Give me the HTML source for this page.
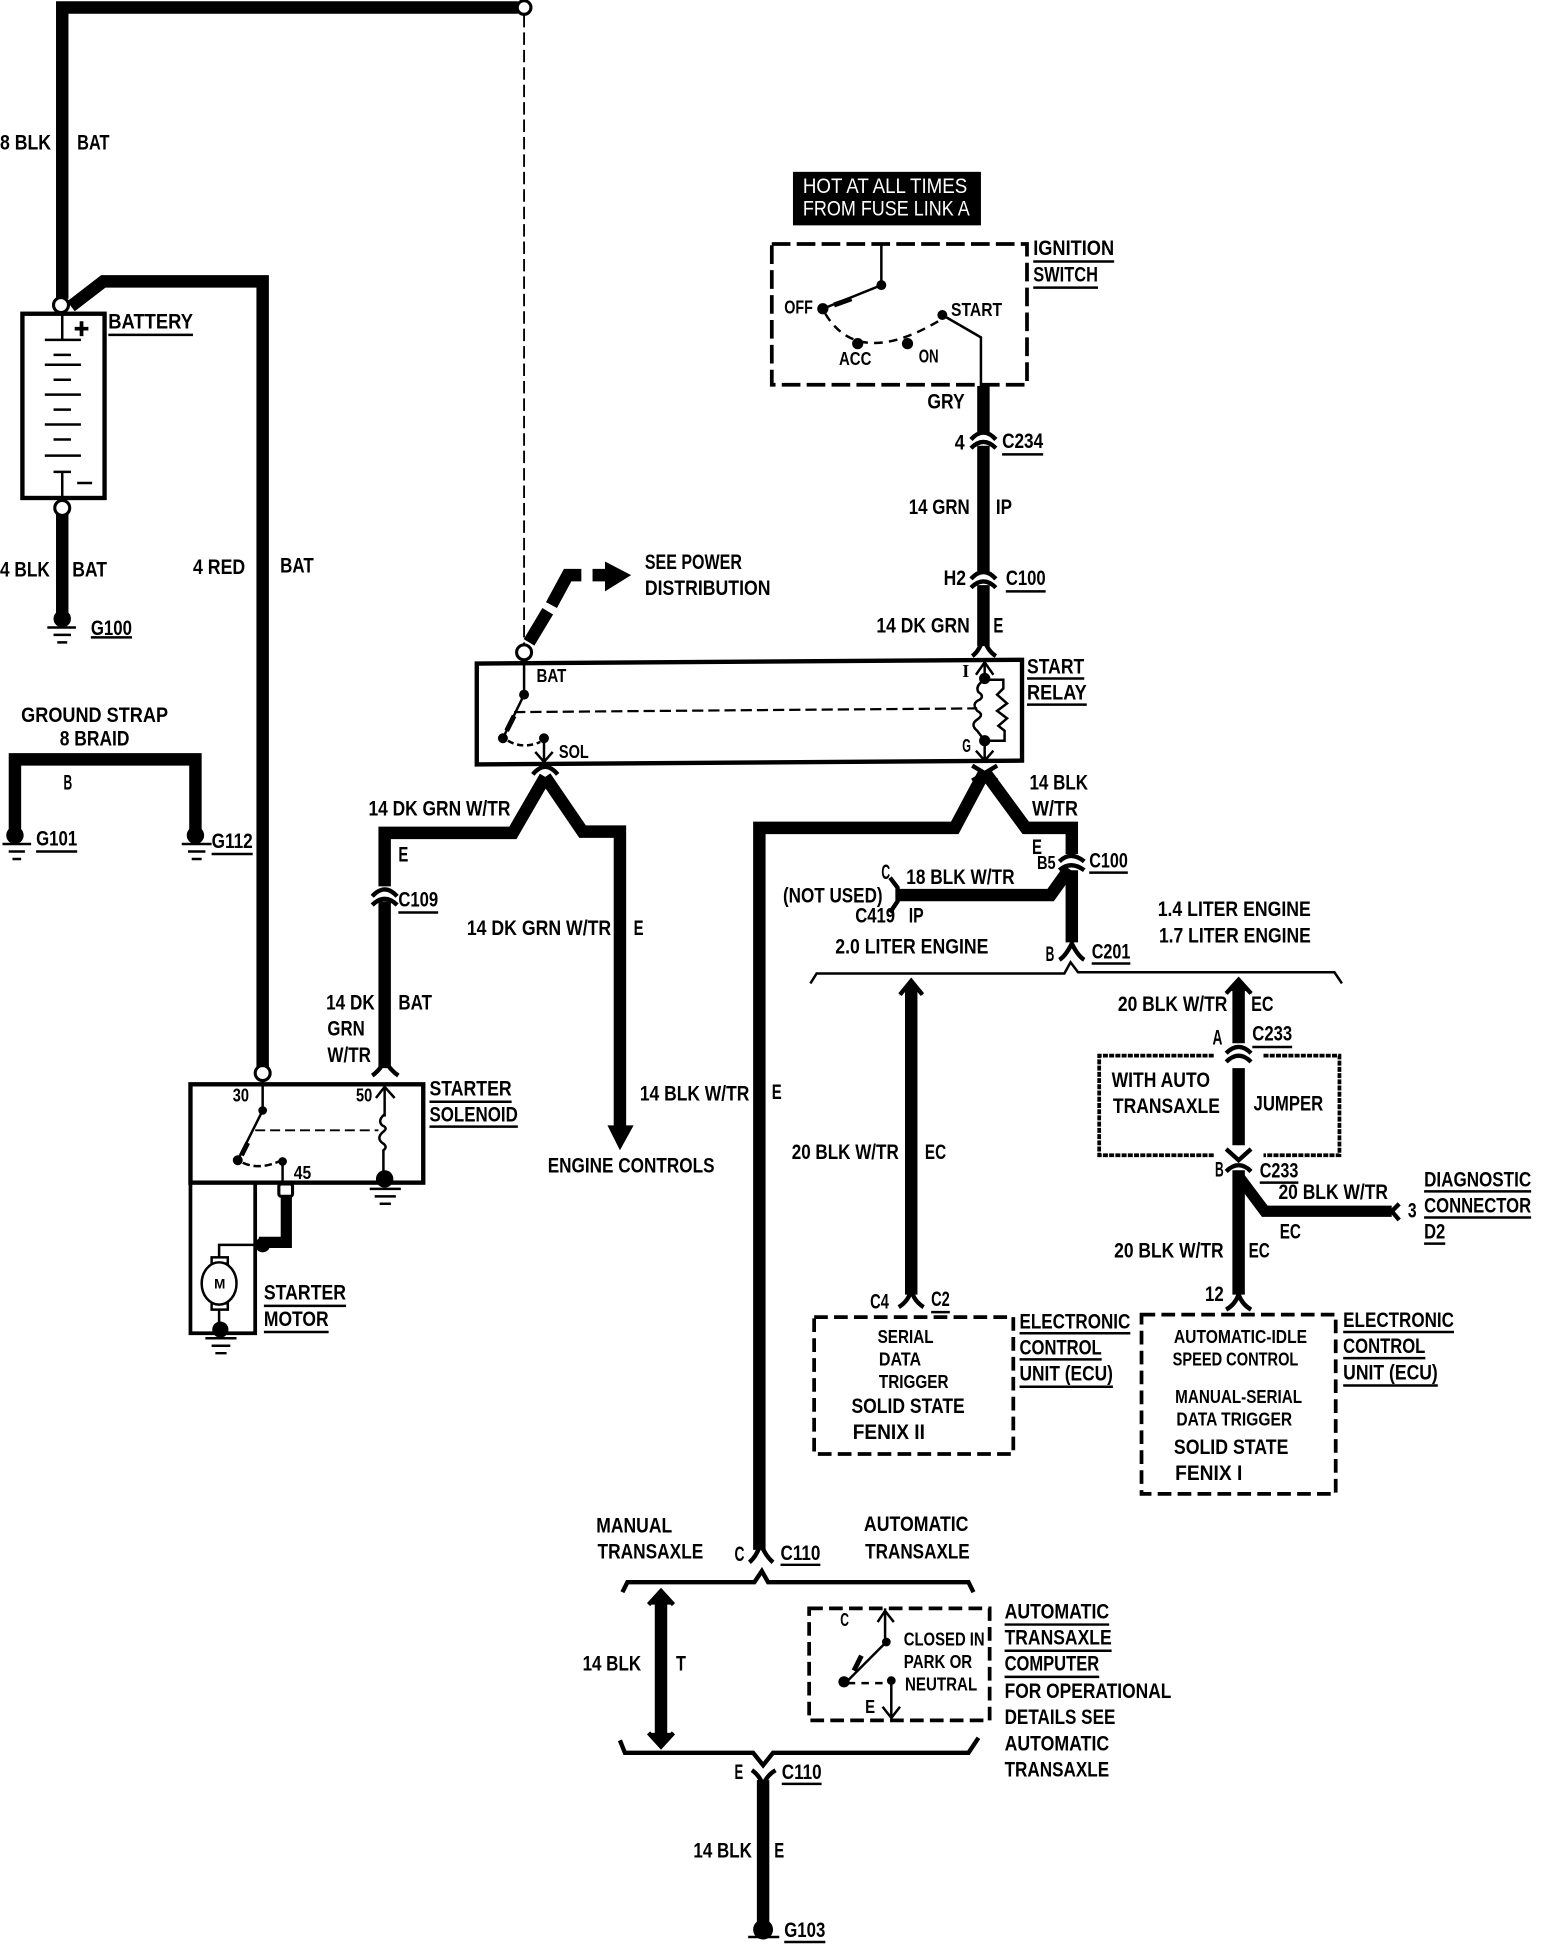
<!DOCTYPE html>
<html><head><meta charset="utf-8"><style>
html,body{margin:0;padding:0;background:#fff}
svg{display:block}
text{font-family:"Liberation Sans",sans-serif;font-weight:bold;font-size:17px;fill:#000}
.s{font-size:14.500px}
.w{fill:none;stroke:#000;stroke-linejoin:miter}
.t{fill:none;stroke:#000;stroke-width:2}
.d{fill:none;stroke:#000;stroke-width:3}
</style></head><body>
<svg xmlns="http://www.w3.org/2000/svg" width="1568" height="1952" viewBox="0 0 1259.6 1568">
<rect width="1260" height="1568" fill="#fff"/>
<!-- heavy wires -->
<g class="w" stroke-width="10">
<path d="M50 240V6H416"/>
<path d="M57 246L83 226H211V857"/>
<path d="M50 405V497"/>
<path d="M12 668V610H157V668"/>
<path d="M425 516L440 491M443 486L456 462H467M476 462H488"/>
<path d="M790 310V347M790 358V459M790 470V519"/>
<path d="M791 620L767 665H610V1245"/>
<path d="M791 620L824 665H861V686"/>
<path d="M861 699V757M859 698L844 719H720" stroke-width="10"/>
<path d="M438 624L412 669H309V712M309 724V858"/>
<path d="M438 624L468 668H498V906"/>
<path d="M732 796V1040M995 795V838M995 858V920M995 940V1040"/>
<path d="M995 945L1016 973H1118" stroke-width="9"/>
<path d="M531 1285V1396"/>
<path d="M613 1430V1546"/>
<path d="M230 960V998H208" stroke-width="9"/>
</g>
<!-- terminals -->
<g fill="#fff" stroke="#000" stroke-width="2.5">
<circle cx="421" cy="6" r="5.5"/><circle cx="49" cy="245" r="6"/><circle cx="50" cy="408" r="6"/>
<circle cx="421" cy="524" r="6"/><circle cx="211" cy="862" r="6"/><rect x="224" y="951" width="11" height="10" rx="2"/>
</g>
<!-- dashed -->
<path d="M421 12V518" fill="none" stroke="#000" stroke-width="1.5" stroke-dasharray="10 4"/>
<!-- battery -->
<rect x="18" y="252" width="66" height="148" fill="none" stroke="#000" stroke-width="3.5"/>
<path d="M50 253V272M36 273H65M43 285H57M36 293H65M43 305H57M36 317H65M43 329H57M36 341H65M43 353H57M36 366H65M43 379H57M50 380V399M62 388H74" class="w" stroke-width="2"/>
<path d="M60 264H71M65.500 258V270" class="w" stroke-width="3"/>
<!-- grounds -->
<circle cx="50" cy="497" r="7"/><path d="M38 504H61M43 510H57M46 516H54" class="t"/>
<circle cx="12" cy="671" r="7"/><path d="M2 678H25M7 684H20M10 690H17" class="t"/>
<circle cx="157" cy="671" r="7"/><path d="M146 678H170M151 684H165M154 690H162" class="t"/>
<circle cx="613" cy="1550" r="8"/><path d="M601 1556H626" class="t"/>
<!-- power arrow -->
<polygon points="486,451 507,462 486,475"/>
<!-- start relay -->
<path d="M383 533L821 530V611L383 614Z" fill="none" stroke="#000" stroke-width="3.500"/>
<path d="M421 530V558L404 593" class="t"/><path d="M413 575L407 587" class="w" stroke-width="4"/>
<circle cx="421" cy="558" r="4"/><circle cx="404" cy="593" r="4"/><circle cx="437" cy="593" r="4"/>
<path d="M408 595Q420 602 434 596" class="t" stroke-dasharray="5 3"/>
<path d="M437 593V612M430 604L437 612L444 604" class="t"/>
<path d="M413 572L785 569" fill="none" stroke="#000" stroke-width="1.800" stroke-dasharray="9 4"/>
<path d="M791 532V546M784 542L791 532L798 542M791 594V611M784 603L791 611L798 603" class="t"/>
<circle cx="791" cy="545" r="4.500"/><circle cx="791" cy="595" r="4.500"/>
<path d="M791 546q-8 5 -5 10q5 3 1 6q-7 3 -2 9q6 3 0 7q-6 4 0 9l6 8" class="t"/>
<path d="M791 546H806V553L801 558L809 565L801 571L809 577L802 583L807 587V595H791" class="t"/>
<!-- connectors, arches -->
<g class="w" stroke-width="3.500">
<path d="M780 353Q790 342 800 353M780 360Q790 350 800 360"/>
<path d="M780 465Q790 454 800 465M780 472Q790 462 800 472"/>
<path d="M781 527Q788 522 790 510Q792 522 800 527"/>
<path d="M428 622Q438 610 448 622"/>
<path d="M781 615L801 627M801 615L781 627"/>
<path d="M299 720Q309 709 319 720M299 727Q309 717 319 727"/>
<path d="M299 864Q305 860 309 852Q314 860 320 864"/>
<path d="M851 692Q860 683 871 692M851 699Q860 691 871 699"/>
<path d="M851 771Q856 768 861 758Q866 768 871 771"/>
<path d="M715 705L721 713V724L715 733"/>
<path d="M723 799L732 788L741 799M985 798L995 787L1005 798"/>
<path d="M722 1050Q730 1045 732 1036Q734 1045 742 1050"/>
<path d="M985 846Q995 836 1005 846M985 853Q995 843 1005 853"/>
<path d="M985 923L995 932L1005 923M985 941Q995 931 1005 941"/>
<path d="M985 1052Q992 1048 995 1040Q998 1048 1005 1052"/>
<path d="M1124 967L1118 973L1124 980"/>
<path d="M602 1255Q608 1250 611 1240Q615 1250 621 1255"/>
<path d="M521 1289L531 1278L541 1289M521 1392L531 1403L541 1392"/>
<path d="M604 1422Q610 1426 613 1434Q616 1426 623 1422"/>
</g>
<polygon points="727,796 737,796 742,800 732,787 722,800" />
<polygon points="989,796 1001,796 1006,799 995,786 984,799"/>
<polygon points="525,1289 537,1289 541,1289 531,1277 521,1289"/>
<polygon points="525,1392 537,1392 541,1392 531,1404 521,1392"/>
<!-- brackets -->
<path d="M651 790L656 782H855L860 773L866 781H1072L1078 790" class="t"/>
<path d="M500 1279L504 1271H606L612 1262L617 1271H778L782 1279" class="w" stroke-width="3.500"/>
<path d="M498 1398L502 1408H605L613 1418L621 1408H778L786 1396" class="w" stroke-width="3.500"/>
<!-- engine controls arrow -->
<polygon points="488,904 509,904 498,924"/>
<!-- solenoid -->
<rect x="153" y="871" width="187" height="79" fill="none" stroke="#000" stroke-width="3.500"/>
<path d="M211 868V892L191 932" class="t"/>
<path d="M153 950V1071H205V950" class="w" stroke-width="3"/>
<path d="M199 918L194 928" class="w" stroke-width="4"/>
<circle cx="211" cy="892" r="3.500"/><circle cx="191" cy="932" r="4"/><circle cx="227" cy="933" r="3.500"/>
<path d="M195 934Q208 940 224 933" class="t" stroke-dasharray="6 3"/>
<path d="M227 935V950M302 882L309 873L317 882M309 873V897" class="t"/>
<path d="M205 908H304" fill="none" stroke="#000" stroke-width="1.500" stroke-dasharray="8 4"/>
<path d="M309 895q-6 5 -2 9q5 2 1 5q-6 5 -1 9q5 3 1 6V945" class="t"/>
<circle cx="309" cy="947" r="7"/><path d="M297 955H322M301 961H318M305 967H314" class="t"/>
<circle cx="211" cy="1000" r="6"/>
<path d="M205 1000H176V1010M176 1046V1066" class="t"/>
<rect x="170" y="1010" width="13" height="5" fill="#fff" stroke="#000" stroke-width="2"/>
<rect x="170" y="1047" width="13" height="5" fill="#fff" stroke="#000" stroke-width="2"/>
<ellipse cx="176" cy="1031" rx="14" ry="17" fill="#fff" stroke="#000" stroke-width="2"/>
<circle cx="177" cy="1068" r="6.500"/><path d="M165 1075H190M170 1081H185M173 1087H182" class="t"/>
<!-- ignition switch -->
<rect x="637" y="138" width="151" height="43"/>
<rect x="620" y="196" width="205" height="113" fill="none" stroke="#000" stroke-width="3" stroke-dasharray="15 5"/>
<path d="M708 196V229L661 248M757 253L788 271V310" class="t"/>
<path d="M670 245L684 240" class="w" stroke-width="4"/>
<circle cx="708" cy="229" r="4"/><circle cx="661" cy="248" r="4.500"/><circle cx="757" cy="253" r="4"/><circle cx="689" cy="276" r="4.500"/><circle cx="729" cy="276" r="4.500"/>
<path d="M663 252Q690 297 757 256" class="t" stroke-dasharray="7 5"/>
<!-- jumper -->
<path d="M975 848H883V928H975M1015 848H1076V928H1015" fill="none" stroke="#000" stroke-width="3" stroke-dasharray="4 1"/>
<!-- ECU boxes -->
<rect x="654" y="1058" width="160" height="110" fill="none" stroke="#000" stroke-width="3" stroke-dasharray="11 5"/>
<rect x="917" y="1056" width="156" height="144" fill="none" stroke="#000" stroke-width="3" stroke-dasharray="11 5"/>
<!-- transaxle computer box -->
<rect x="650" y="1292" width="145" height="90" fill="none" stroke="#000" stroke-width="3" stroke-dasharray="11 5"/>
<path d="M711 1292V1320L679 1352M716 1351V1380M705 1303L711 1294L718 1303M709 1371L716 1380L723 1371" class="t"/>
<path d="M692 1330L686 1342" class="w" stroke-width="4"/>
<circle cx="712" cy="1319" r="3.500"/><circle cx="678" cy="1351" r="4.500"/><circle cx="716" cy="1350" r="3.500"/>
<path d="M681 1352H713" class="t" stroke-dasharray="6 5"/>
<!-- underlines -->
<path class="t" d="M87 269H155M73 512H106M29 684H62M170 686H203M320 733H352M345 885H411M345 905H416M212 1049H278M212 1070H264M825 545H871M825 566H873M830 210H895M830 231H882M805 365H838M808 475H840M875 701H906M877 774H908M1006 841H1038M1012 950H1043M1144 957H1230M1144 978H1230M1144 999H1161M748 1054H763M819 1071H908M819 1092H885M819 1114H894M1079 1070H1168M1079 1091H1145M1079 1113H1155M627 1257H659M807 1305H891M807 1326H893M807 1347H883M628 1433H660M630 1560H663"/>
<!-- labels -->
<text x="0" y="120" textLength="41" lengthAdjust="spacingAndGlyphs">8 BLK</text>
<text x="62" y="120" textLength="26" lengthAdjust="spacingAndGlyphs">BAT</text>
<text x="0" y="463" textLength="40" lengthAdjust="spacingAndGlyphs">4 BLK</text>
<text x="58" y="463" textLength="28" lengthAdjust="spacingAndGlyphs">BAT</text>
<text x="155" y="461" textLength="42" lengthAdjust="spacingAndGlyphs">4 RED</text>
<text x="225" y="460" textLength="27" lengthAdjust="spacingAndGlyphs">BAT</text>
<text x="87" y="264" textLength="68" lengthAdjust="spacingAndGlyphs">BATTERY</text>
<text x="73" y="510" textLength="33" lengthAdjust="spacingAndGlyphs">G100</text>
<text x="17" y="580" textLength="118" lengthAdjust="spacingAndGlyphs">GROUND  STRAP</text>
<text x="48" y="599" textLength="56" lengthAdjust="spacingAndGlyphs">8 BRAID</text>
<text x="51" y="634" textLength="7" lengthAdjust="spacingAndGlyphs">B</text>
<text x="29" y="679" textLength="33" lengthAdjust="spacingAndGlyphs">G101</text>
<text x="170" y="681" textLength="33" lengthAdjust="spacingAndGlyphs">G112</text>
<text x="296" y="655" textLength="114" lengthAdjust="spacingAndGlyphs">14 DK GRN W/TR</text>
<text x="320" y="692" textLength="8" lengthAdjust="spacingAndGlyphs">E</text>
<text x="320" y="728" textLength="32" lengthAdjust="spacingAndGlyphs">C109</text>
<text x="375" y="751" textLength="116" lengthAdjust="spacingAndGlyphs">14 DK GRN W/TR</text>
<text x="509" y="751" textLength="8" lengthAdjust="spacingAndGlyphs">E</text>
<text x="262" y="811" textLength="39" lengthAdjust="spacingAndGlyphs">14 DK</text>
<text x="320" y="811" textLength="27" lengthAdjust="spacingAndGlyphs">BAT</text>
<text x="263" y="832" textLength="30" lengthAdjust="spacingAndGlyphs">GRN</text>
<text x="263" y="853" textLength="35" lengthAdjust="spacingAndGlyphs">W/TR</text>
<text x="345" y="880" textLength="66" lengthAdjust="spacingAndGlyphs">STARTER</text>
<text x="345" y="901" textLength="71" lengthAdjust="spacingAndGlyphs">SOLENOID</text>
<text class="s" x="187" y="885" textLength="13" lengthAdjust="spacingAndGlyphs">30</text>
<text class="s" x="286" y="885" textLength="13" lengthAdjust="spacingAndGlyphs">50</text>
<text class="s" x="236" y="947" textLength="14" lengthAdjust="spacingAndGlyphs">45</text>
<text x="172" y="1035" textLength="9" lengthAdjust="spacingAndGlyphs" style="font-size:11px">M</text>
<text x="212" y="1044" textLength="66" lengthAdjust="spacingAndGlyphs">STARTER</text>
<text x="212" y="1065" textLength="52" lengthAdjust="spacingAndGlyphs">MOTOR</text>
<text x="440" y="942" textLength="134" lengthAdjust="spacingAndGlyphs">ENGINE CONTROLS</text>
<text x="514" y="884" textLength="88" lengthAdjust="spacingAndGlyphs">14 BLK W/TR</text>
<text x="620" y="883" textLength="8" lengthAdjust="spacingAndGlyphs">E</text>
<text x="518" y="457" textLength="78" lengthAdjust="spacingAndGlyphs">SEE POWER</text>
<text x="518" y="478" textLength="101" lengthAdjust="spacingAndGlyphs">DISTRIBUTION</text>
<text class="s" x="431" y="548" textLength="24" lengthAdjust="spacingAndGlyphs">BAT</text>
<text class="s" x="449" y="609" textLength="24" lengthAdjust="spacingAndGlyphs">SOL</text>
<text x="825" y="541" textLength="46" lengthAdjust="spacingAndGlyphs">START</text>
<text x="825" y="562" textLength="48" lengthAdjust="spacingAndGlyphs">RELAY</text>
<text class="s" x="773" y="544" style="font-family:'Liberation Serif',serif">I</text>
<text class="s" x="773" y="604" textLength="7" lengthAdjust="spacingAndGlyphs">G</text>
<text x="645" y="155" textLength="132" lengthAdjust="spacingAndGlyphs" style="fill:#fff;font-weight:normal">HOT AT ALL TIMES</text>
<text x="645" y="173" textLength="134" lengthAdjust="spacingAndGlyphs" style="fill:#fff;font-weight:normal">FROM FUSE LINK A</text>
<text x="830" y="205" textLength="65" lengthAdjust="spacingAndGlyphs">IGNITION</text>
<text x="830" y="226" textLength="52" lengthAdjust="spacingAndGlyphs">SWITCH</text>
<text class="s" x="630" y="252" textLength="23" lengthAdjust="spacingAndGlyphs">OFF</text>
<text class="s" x="764" y="254" textLength="41" lengthAdjust="spacingAndGlyphs">START</text>
<text class="s" x="674" y="293" textLength="26" lengthAdjust="spacingAndGlyphs">ACC</text>
<text class="s" x="738" y="291" textLength="16" lengthAdjust="spacingAndGlyphs">ON</text>
<text x="745" y="328" textLength="30" lengthAdjust="spacingAndGlyphs">GRY</text>
<text x="767" y="361" textLength="8" lengthAdjust="spacingAndGlyphs">4</text>
<text x="805" y="360" textLength="33" lengthAdjust="spacingAndGlyphs">C234</text>
<text x="730" y="413" textLength="49" lengthAdjust="spacingAndGlyphs">14 GRN</text>
<text x="800" y="413" textLength="13" lengthAdjust="spacingAndGlyphs">IP</text>
<text x="758" y="470" textLength="18" lengthAdjust="spacingAndGlyphs">H2</text>
<text x="808" y="470" textLength="32" lengthAdjust="spacingAndGlyphs">C100</text>
<text x="704" y="508" textLength="75" lengthAdjust="spacingAndGlyphs">14 DK GRN</text>
<text x="798" y="508" textLength="8" lengthAdjust="spacingAndGlyphs">E</text>
<text x="827" y="634" textLength="47" lengthAdjust="spacingAndGlyphs">14 BLK</text>
<text x="829" y="655" textLength="37" lengthAdjust="spacingAndGlyphs">W/TR</text>
<text x="829" y="686" textLength="8" lengthAdjust="spacingAndGlyphs">E</text>
<text class="s" x="833" y="698" textLength="15" lengthAdjust="spacingAndGlyphs">B5</text>
<text x="875" y="697" textLength="31" lengthAdjust="spacingAndGlyphs">C100</text>
<text x="708" y="706" textLength="7" lengthAdjust="spacingAndGlyphs">C</text>
<text x="728" y="710" textLength="87" lengthAdjust="spacingAndGlyphs">18 BLK W/TR</text>
<text x="629" y="725" textLength="80" lengthAdjust="spacingAndGlyphs">(NOT USED)</text>
<text x="687" y="741" textLength="32" lengthAdjust="spacingAndGlyphs">C419</text>
<text x="730" y="741" textLength="12" lengthAdjust="spacingAndGlyphs">IP</text>
<text x="930" y="736" textLength="123" lengthAdjust="spacingAndGlyphs">1.4 LITER ENGINE</text>
<text x="931" y="757" textLength="122" lengthAdjust="spacingAndGlyphs">1.7 LITER ENGINE</text>
<text x="671" y="766" textLength="123" lengthAdjust="spacingAndGlyphs">2.0 LITER ENGINE</text>
<text x="840" y="772" textLength="7" lengthAdjust="spacingAndGlyphs">B</text>
<text x="877" y="770" textLength="31" lengthAdjust="spacingAndGlyphs">C201</text>
<text x="898" y="812" textLength="88" lengthAdjust="spacingAndGlyphs">20 BLK W/TR</text>
<text x="1005" y="812" textLength="18" lengthAdjust="spacingAndGlyphs">EC</text>
<text x="974" y="839" textLength="8" lengthAdjust="spacingAndGlyphs">A</text>
<text x="1006" y="836" textLength="32" lengthAdjust="spacingAndGlyphs">C233</text>
<text x="893" y="873" textLength="79" lengthAdjust="spacingAndGlyphs">WITH AUTO</text>
<text x="894" y="894" textLength="86" lengthAdjust="spacingAndGlyphs">TRANSAXLE</text>
<text x="1007" y="892" textLength="56" lengthAdjust="spacingAndGlyphs">JUMPER</text>
<text x="976" y="945" textLength="7" lengthAdjust="spacingAndGlyphs">B</text>
<text x="1012" y="946" textLength="31" lengthAdjust="spacingAndGlyphs">C233</text>
<text x="1027" y="963" textLength="88" lengthAdjust="spacingAndGlyphs">20 BLK W/TR</text>
<text x="1131" y="978" textLength="7" lengthAdjust="spacingAndGlyphs">3</text>
<text x="1144" y="953" textLength="86" lengthAdjust="spacingAndGlyphs">DIAGNOSTIC</text>
<text x="1144" y="974" textLength="86" lengthAdjust="spacingAndGlyphs">CONNECTOR</text>
<text x="1144" y="995" textLength="17" lengthAdjust="spacingAndGlyphs">D2</text>
<text x="1028" y="995" textLength="17" lengthAdjust="spacingAndGlyphs">EC</text>
<text x="895" y="1010" textLength="88" lengthAdjust="spacingAndGlyphs">20 BLK W/TR</text>
<text x="1003" y="1010" textLength="17" lengthAdjust="spacingAndGlyphs">EC</text>
<text x="968" y="1045" textLength="15" lengthAdjust="spacingAndGlyphs">12</text>
<text x="699" y="1051" textLength="15" lengthAdjust="spacingAndGlyphs">C4</text>
<text x="748" y="1049" textLength="15" lengthAdjust="spacingAndGlyphs">C2</text>
<text x="636" y="931" textLength="86" lengthAdjust="spacingAndGlyphs">20 BLK W/TR</text>
<text x="743" y="931" textLength="17" lengthAdjust="spacingAndGlyphs">EC</text>
<text x="819" y="1067" textLength="89" lengthAdjust="spacingAndGlyphs">ELECTRONIC</text>
<text x="819" y="1088" textLength="66" lengthAdjust="spacingAndGlyphs">CONTROL</text>
<text x="819" y="1109" textLength="75" lengthAdjust="spacingAndGlyphs">UNIT (ECU)</text>
<text x="1079" y="1066" textLength="89" lengthAdjust="spacingAndGlyphs">ELECTRONIC</text>
<text x="1079" y="1087" textLength="66" lengthAdjust="spacingAndGlyphs">CONTROL</text>
<text x="1079" y="1108" textLength="76" lengthAdjust="spacingAndGlyphs">UNIT (ECU)</text>
<text class="s" x="705" y="1079" textLength="45" lengthAdjust="spacingAndGlyphs">SERIAL</text>
<text class="s" x="706" y="1097" textLength="34" lengthAdjust="spacingAndGlyphs">DATA</text>
<text class="s" x="706" y="1115" textLength="56" lengthAdjust="spacingAndGlyphs">TRIGGER</text>
<text x="684" y="1135" textLength="91" lengthAdjust="spacingAndGlyphs">SOLID STATE</text>
<text x="685" y="1156" textLength="58" lengthAdjust="spacingAndGlyphs">FENIX II</text>
<text class="s" x="943" y="1079" textLength="107" lengthAdjust="spacingAndGlyphs">AUTOMATIC-IDLE</text>
<text class="s" x="942" y="1097" textLength="101" lengthAdjust="spacingAndGlyphs">SPEED CONTROL</text>
<text class="s" x="944" y="1127" textLength="102" lengthAdjust="spacingAndGlyphs">MANUAL-SERIAL</text>
<text class="s" x="945" y="1145" textLength="93" lengthAdjust="spacingAndGlyphs">DATA TRIGGER</text>
<text x="943" y="1168" textLength="92" lengthAdjust="spacingAndGlyphs">SOLID STATE</text>
<text x="944" y="1189" textLength="54" lengthAdjust="spacingAndGlyphs">FENIX I</text>
<text x="479" y="1231" textLength="61" lengthAdjust="spacingAndGlyphs">MANUAL</text>
<text x="480" y="1252" textLength="85" lengthAdjust="spacingAndGlyphs">TRANSAXLE</text>
<text x="590" y="1254" textLength="8" lengthAdjust="spacingAndGlyphs">C</text>
<text x="627" y="1253" textLength="32" lengthAdjust="spacingAndGlyphs">C110</text>
<text x="694" y="1230" textLength="84" lengthAdjust="spacingAndGlyphs">AUTOMATIC</text>
<text x="695" y="1252" textLength="84" lengthAdjust="spacingAndGlyphs">TRANSAXLE</text>
<text x="468" y="1342" textLength="47" lengthAdjust="spacingAndGlyphs">14 BLK</text>
<text x="543" y="1342" textLength="8" lengthAdjust="spacingAndGlyphs">T</text>
<text class="s" x="675" y="1306" textLength="7" lengthAdjust="spacingAndGlyphs">C</text>
<text class="s" x="726" y="1322" textLength="65" lengthAdjust="spacingAndGlyphs">CLOSED IN</text>
<text class="s" x="726" y="1340" textLength="55" lengthAdjust="spacingAndGlyphs">PARK OR</text>
<text class="s" x="727" y="1358" textLength="58" lengthAdjust="spacingAndGlyphs">NEUTRAL</text>
<text class="s" x="695" y="1376" textLength="8" lengthAdjust="spacingAndGlyphs">E</text>
<text x="807" y="1300" textLength="84" lengthAdjust="spacingAndGlyphs">AUTOMATIC</text>
<text x="807" y="1321" textLength="86" lengthAdjust="spacingAndGlyphs">TRANSAXLE</text>
<text x="807" y="1342" textLength="76" lengthAdjust="spacingAndGlyphs">COMPUTER</text>
<text x="807" y="1364" textLength="134" lengthAdjust="spacingAndGlyphs">FOR OPERATIONAL</text>
<text x="807" y="1385" textLength="89" lengthAdjust="spacingAndGlyphs">DETAILS SEE</text>
<text x="807" y="1406" textLength="84" lengthAdjust="spacingAndGlyphs">AUTOMATIC</text>
<text x="807" y="1427" textLength="84" lengthAdjust="spacingAndGlyphs">TRANSAXLE</text>
<text x="590" y="1429" textLength="7" lengthAdjust="spacingAndGlyphs">E</text>
<text x="628" y="1429" textLength="32" lengthAdjust="spacingAndGlyphs">C110</text>
<text x="557" y="1492" textLength="47" lengthAdjust="spacingAndGlyphs">14 BLK</text>
<text x="622" y="1492" textLength="8" lengthAdjust="spacingAndGlyphs">E</text>
<text x="630" y="1556" textLength="33" lengthAdjust="spacingAndGlyphs">G103</text>
</svg>
</body></html>
